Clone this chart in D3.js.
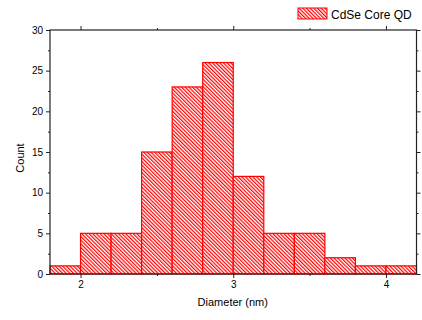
<!DOCTYPE html>
<html>
<head>
<meta charset="utf-8">
<script src="https://cdn.jsdelivr.net/npm/d3@7"></script>
<style>
  body { margin: 0; background: #fff; }
  svg { font-family: Arial, "Liberation Sans", sans-serif; }
</style>
</head>
<body>
<div id="chart"></div>
<script>
// histogram bins (nm) and counts
const binStarts = [1.8, 2.0, 2.2, 2.4, 2.6, 2.8, 3.0, 3.2, 3.4, 3.6, 3.8, 4.0];
const binWidth = 0.2;
const counts = [1, 5, 5, 15, 23, 26, 12, 5, 5, 2, 1, 1];
const xTicks = [2, 3, 4];
const xMinor = [2.5, 3.5];
const yTicks = [0, 5, 10, 15, 20, 25, 30];
const yMinor = [2.5, 7.5, 12.5, 17.5, 22.5, 27.5];
const seriesName = 'CdSe Core QD';

const width = 422, height = 320;
const margin = { top: 30, right: 5.5, bottom: 46, left: 50 };
const iw = width - margin.left - margin.right;
const ih = height - margin.top - margin.bottom;
const red = '#ff0000', axisColor = '#222';

const svg = d3.select('#chart').append('svg')
  .attr('width', width)
  .attr('height', height);

const pat = svg.append('defs').append('pattern')
  .attr('id', 'hatch')
  .attr('patternUnits', 'userSpaceOnUse')
  .attr('width', 2.6)
  .attr('height', 10)
  .attr('patternTransform', 'rotate(-45)');
pat.append('rect').attr('width', 2.6).attr('height', 10).attr('fill', '#fff');
pat.append('line')
  .attr('x1', 0.6).attr('y1', 0).attr('x2', 0.6).attr('y2', 10)
  .attr('stroke', red).attr('stroke-width', 1.2);

const g = svg.append('g').attr('transform', `translate(${margin.left},${margin.top})`);

const x = d3.scaleLinear().domain([1.8, 4.2]).range([0, iw]);
const y = d3.scaleLinear().domain([0, 30]).range([ih, 0]);

// bars
g.selectAll('.bar')
  .data(binStarts.map((s, i) => ({ s, c: counts[i] })))
  .enter().append('rect')
  .attr('class', 'bar')
  .attr('x', d => x(d.s))
  .attr('y', d => y(d.c))
  .attr('width', d => x(d.s + binWidth) - x(d.s))
  .attr('height', d => y(0) - y(d.c))
  .attr('fill', 'url(#hatch)')
  .attr('stroke', red)
  .attr('stroke-width', 1.2);

// axes
function styleAxis(sel) {
  sel.select('.domain').remove();
  sel.selectAll('line').attr('stroke', axisColor);
  sel.selectAll('text').attr('fill', '#000').style('font-size', '10px');
}

const axes = [
  { ax: d3.axisBottom(x), tr: `translate(0,${ih})`, ticks: xTicks, minor: xMinor, labels: true },
  { ax: d3.axisTop(x), tr: 'translate(0,0)', ticks: xTicks, minor: xMinor, labels: false },
  { ax: d3.axisLeft(y), tr: 'translate(0,0)', ticks: yTicks, minor: yMinor, labels: true },
  { ax: d3.axisRight(y), tr: `translate(${iw},0)`, ticks: yTicks, minor: yMinor, labels: false }
];
axes.forEach(a => {
  const major = g.append('g').attr('transform', a.tr)
    .call(a.ax.tickValues(a.ticks).tickSize(4).tickPadding(3)
      .tickFormat(a.labels ? d3.format('d') : ''));
  styleAxis(major);
  const minor = g.append('g').attr('transform', a.tr)
    .call(a.ax.tickValues(a.minor).tickSize(2).tickFormat(''));
  styleAxis(minor);
});

// frame
g.append('rect')
  .attr('width', iw).attr('height', ih)
  .attr('fill', 'none')
  .attr('stroke', axisColor)
  .attr('stroke-width', 1.2);

// axis titles
svg.append('text')
  .attr('x', margin.left + iw / 2 - 0.5)
  .attr('y', 306)
  .attr('text-anchor', 'middle')
  .style('font-size', '11px')
  .text('Diameter (nm)');

svg.append('text')
  .attr('transform', `translate(24,${margin.top + ih / 2 + 6}) rotate(-90)`)
  .attr('text-anchor', 'middle')
  .style('font-size', '11px')
  .text('Count');

// legend
const lg = svg.append('g').attr('transform', 'translate(298,8)');
lg.append('rect')
  .attr('width', 29).attr('height', 11)
  .attr('fill', 'url(#hatch)')
  .attr('stroke', red)
  .attr('stroke-width', 1);
lg.append('text')
  .attr('x', 33).attr('y', 10.5)
  .style('font-size', '12px')
  .text(seriesName);
</script>
</body>
</html>
